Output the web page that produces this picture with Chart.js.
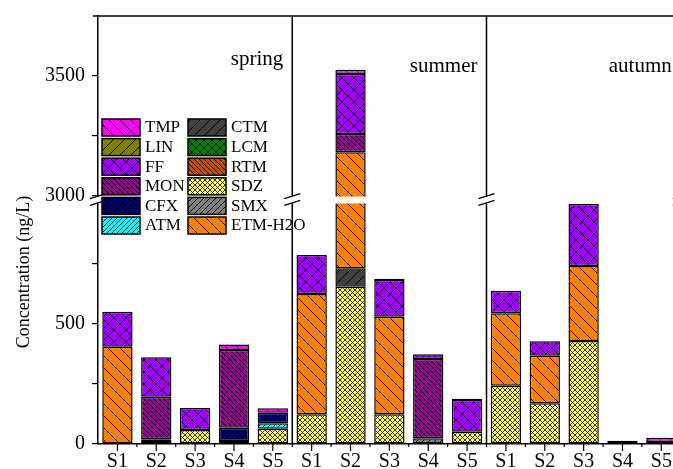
<!DOCTYPE html>
<html>
<head>
<meta charset="utf-8">
<script src="https://cdn.jsdelivr.net/npm/chart.js@4.4.0/dist/chart.umd.min.js"></script>
<style>
html, body { margin: 0; padding: 0; background: #fff; overflow: hidden; width: 673px; height: 469px; }
#wrap { position: absolute; left: 0; top: 0; width: 700px; height: 490px; }
</style>
</head>
<body>
<div id="wrap"><canvas id="myChart" width="700" height="490"></canvas></div>
<script>
const seasons = ['spring', 'summer', 'autumn'];
const sites = ['S1', 'S2', 'S3', 'S4', 'S5'];

// ng/L; order: spring S1-S5, summer S1-S5, autumn S1-S5 (stack order bottom -> top)
const SMX = [0, 8, 0, 12, 0,     0, 0, 0, 24, 0,        0, 0, 0, 0, 0];
const SDZ = [0, 0, 58, 0, 64,    124, 655, 124, 0, 51,  243, 170, 429, 0, 0];
const ATM = [0, 0, 0, 0, 22,     0, 0, 0, 0, 0,         0, 0, 0, 0, 0];
const LCM = [0, 12, 0, 0, 0,     0, 0, 0, 0, 0,         0, 0, 0, 0, 8];
const CFX = [0, 0, 0, 56, 44,    0, 0, 0, 0, 0,         0, 0, 0, 0, 0];
const CTM = [0, 0, 0, 0, 0,      0, 77, 0, 0, 0,        0, 0, 0, 0, 0];
const ETM = [405, 0, 0, 0, 0,    501, 2450, 406, 0, 0,  302, 198, 313, 0, 0];
const RTM = [0, 0, 0, 0, 0,      0, 0, 0, 0, 0,         0, 0, 0, 0, 0];
const MON = [0, 177, 0, 324, 0,  0, 76, 0, 330, 0,      0, 0, 0, 14, 0];
const FF  = [146, 164, 92, 0, 0, 162, 250, 153, 20, 132, 93, 60, 258, 0, 0];
const LIN = [0, 0, 0, 0, 0,      0, 0, 5, 0, 0,         0, 0, 0, 0, 0];
const TMP = [0, 0, 0, 23, 19,    0, 18, 0, 0, 6,        0, 0, 0, 0, 18];

const legendOrder = ['TMP', 'LIN', 'FF', 'MON', 'CFX', 'ATM', 'CTM', 'LCM', 'RTM', 'SDZ', 'SMX', 'ETM-H2O'];
const yTicks = [0, 250, 500, 750, 3000, 3250, 3500];
const yLabels = [0, 500, 3000, 3500];

const SERIF = "'Liberation Serif', 'Times New Roman', serif";

// broken axis: 1000..3000 squeezed into a small gap
const breakLow = 1000, breakHigh = 3000, breakGap = 33;
function squeeze(v) {
    if (v <= breakLow) return v;
    if (v >= breakHigh) return v - (breakHigh - breakLow) + breakGap;
    return breakLow + (v - breakLow) / (breakHigh - breakLow) * breakGap;
}

class BrokenScale extends Chart.LinearScale {
    getPixelForValue(value) {
        return super.getPixelForValue(value === null || value === undefined ? null : squeeze(value));
    }
}
BrokenScale.id = 'broken';
BrokenScale.defaults = Chart.LinearScale.defaults;
Chart.register(BrokenScale);

function hatch(color, kind, step, lw) {
    const c = document.createElement('canvas');
    c.width = step; c.height = step;
    const g = c.getContext('2d');
    g.fillStyle = color;
    g.fillRect(0, 0, step, step);
    g.strokeStyle = '#000';
    g.lineWidth = lw || 0.9;
    g.beginPath();
    for (let k = -1; k <= 1; k++) {
        if (kind === 'back' || kind === 'cross') {
            g.moveTo(k * step, 0); g.lineTo(k * step + step, step);
        }
        if (kind === 'fwd' || kind === 'cross') {
            g.moveTo(k * step, step); g.lineTo(k * step + step, 0);
        }
    }
    g.stroke();
    return g.createPattern(c, 'repeat');
}

const series = [
    { label: 'SMX', data: SMX, fill: hatch('#808080', 'fwd', 6) },
    { label: 'SDZ', data: SDZ, fill: hatch('#ffff70', 'cross', 5, 0.8) },
    { label: 'ATM', data: ATM, fill: hatch('#00ffff', 'fwd', 5) },
    { label: 'LCM', data: LCM, fill: hatch('#008000', 'cross', 8) },
    { label: 'CFX', data: CFX, fill: hatch('#000080', 'cross', 5) },
    { label: 'CTM', data: CTM, fill: hatch('#404040', 'fwd', 10) },
    { label: 'ETM-H2O', data: ETM, fill: hatch('#ff8000', 'back', 12) },
    { label: 'RTM', data: RTM, fill: hatch('#c0500a', 'back', 5) },
    { label: 'MON', data: MON, fill: hatch('#8a0a8a', 'back', 5) },
    { label: 'FF', data: FF, fill: hatch('#a000ff', 'cross', 12) },
    { label: 'LIN', data: LIN, fill: hatch('#808000', 'fwd', 11) },
    { label: 'TMP', data: TMP, fill: hatch('#ff00ff', 'back', 11) }
];

const decor = {
    id: 'decor',
    afterDraw(chart) {
        const ctx = chart.ctx;
        const a = chart.chartArea;
        const xs = chart.scales.x, ys = chart.scales.y;
        const n = chart.data.labels.length;
        const bounds = [];
        for (let i = 0; i <= n; i++) {
            bounds.push(i === 0 ? a.left : i === n ? a.right :
                (xs.getPixelForValue(i - 1) + xs.getPixelForValue(i)) / 2);
        }
        ctx.save();
        ctx.strokeStyle = '#000';

        // panel dividers, top and right frame
        ctx.lineWidth = 1.5;
        ctx.beginPath();
        for (let s = 1; s < seasons.length; s++) {
            const x = bounds[s * sites.length];
            ctx.moveTo(x, a.top); ctx.lineTo(x, a.bottom);
        }
        ctx.moveTo(a.left - 5, a.top); ctx.lineTo(a.right, a.top);
        ctx.moveTo(a.right, a.top); ctx.lineTo(a.right, a.bottom);
        ctx.stroke();

        // x ticks
        ctx.lineWidth = 1.2;
        ctx.beginPath();
        for (let i = 0; i < n; i++) {
            const x = xs.getPixelForValue(i);
            ctx.moveTo(x, a.bottom); ctx.lineTo(x, a.bottom + 7);
        }
        for (let i = 1; i < n; i++) {
            ctx.moveTo(bounds[i], a.bottom); ctx.lineTo(bounds[i], a.bottom + 3);
        }
        ctx.stroke();

        // axis break
        const yHi = ys.getPixelForValue(breakHigh), yLo = ys.getPixelForValue(breakLow);
        ctx.fillStyle = '#fff';
        ctx.fillRect(a.left - 2, yHi + 0.5, a.right - a.left + 10, yLo - yHi - 1);
        ctx.lineWidth = 1.3;
        ctx.beginPath();
        const xb = [a.left, bounds[sites.length], bounds[2 * sites.length], a.right];
        xb.forEach(x => {
            ctx.moveTo(x - 8, yHi + 2.5); ctx.lineTo(x + 8, yHi - 2.5);
            ctx.moveTo(x - 8, yLo + 1.5); ctx.lineTo(x + 8, yLo - 3.5);
        });
        ctx.stroke();

        // season labels
        ctx.fillStyle = '#000';
        ctx.font = '21px ' + SERIF;
        ctx.textAlign = 'right';
        ctx.textBaseline = 'alphabetic';
        const seasonY = [65, 72, 72];
        seasons.forEach((s, k) => {
            ctx.fillText(s, bounds[(k + 1) * sites.length] - 9, seasonY[k]);
        });

        // legend, two columns
        ctx.font = '17px ' + SERIF;
        ctx.textAlign = 'left';
        ctx.textBaseline = 'middle';
        legendOrder.forEach((name, k) => {
            const ds = chart.data.datasets.find(d => d.label === name);
            const col = Math.floor(k / 6), row = k % 6;
            const x = 102 + col * 86, y = 119 + row * 19.6;
            ctx.fillStyle = ds.backgroundColor;
            ctx.fillRect(x, y, 38, 17);
            ctx.lineWidth = 1.5;
            ctx.strokeRect(x, y, 38, 17);
            ctx.fillStyle = '#000';
            ctx.fillText(name, x + 43, y + 9);
        });

        // y title
        ctx.translate(24, 272);
        ctx.rotate(-Math.PI / 2);
        ctx.textAlign = 'center';
        ctx.font = '18px ' + SERIF;
        ctx.fillText('Concentration (ng/L)', 0, 0);
        ctx.restore();
    }
};

const ctx = document.getElementById('myChart').getContext('2d');
const myChart = new Chart(ctx, {
    type: 'bar',
    data: {
        labels: seasons.flatMap(() => sites),
        datasets: series.map(s => ({
            label: s.label,
            data: s.data,
            backgroundColor: s.fill,
            borderColor: '#000',
            borderWidth: 1.5,
            borderSkipped: false,
            barPercentage: 0.78,
            categoryPercentage: 1
        }))
    },
    options: {
        responsive: false,
        animation: false,
        layout: { padding: { left: 0, top: 16, right: 19.25, bottom: 16 } },
        plugins: { legend: { display: false }, tooltip: { enabled: false } },
        scales: {
            x: {
                stacked: true,
                offset: true,
                afterFit: s => { s.height = 30; s.paddingLeft = 0; s.paddingRight = 0; },
                grid: { display: false, drawTicks: false },
                border: { color: '#000', width: 1.5 },
                ticks: { font: { family: SERIF, size: 20 }, color: '#000', padding: 6, autoSkip: false, maxRotation: 0 }
            },
            y: {
                type: 'broken',
                stacked: true,
                min: 0,
                max: squeeze(3750),
                afterFit: s => { s.width = 98; s.paddingTop = 0; s.paddingBottom = 0; },
                afterBuildTicks: s => { s.ticks = yTicks.map(v => ({ value: v })); },
                grid: { drawOnChartArea: false, tickLength: 6, color: '#000', lineWidth: 1.2 },
                border: { color: '#000', width: 1.5 },
                ticks: {
                    autoSkip: false,
                    font: { family: SERIF, size: 20 },
                    color: '#000',
                    padding: 7,
                    callback: v => yLabels.includes(v) ? String(v) : ''
                }
            }
        }
    },
    plugins: [decor]
});
</script>
</body>
</html>
